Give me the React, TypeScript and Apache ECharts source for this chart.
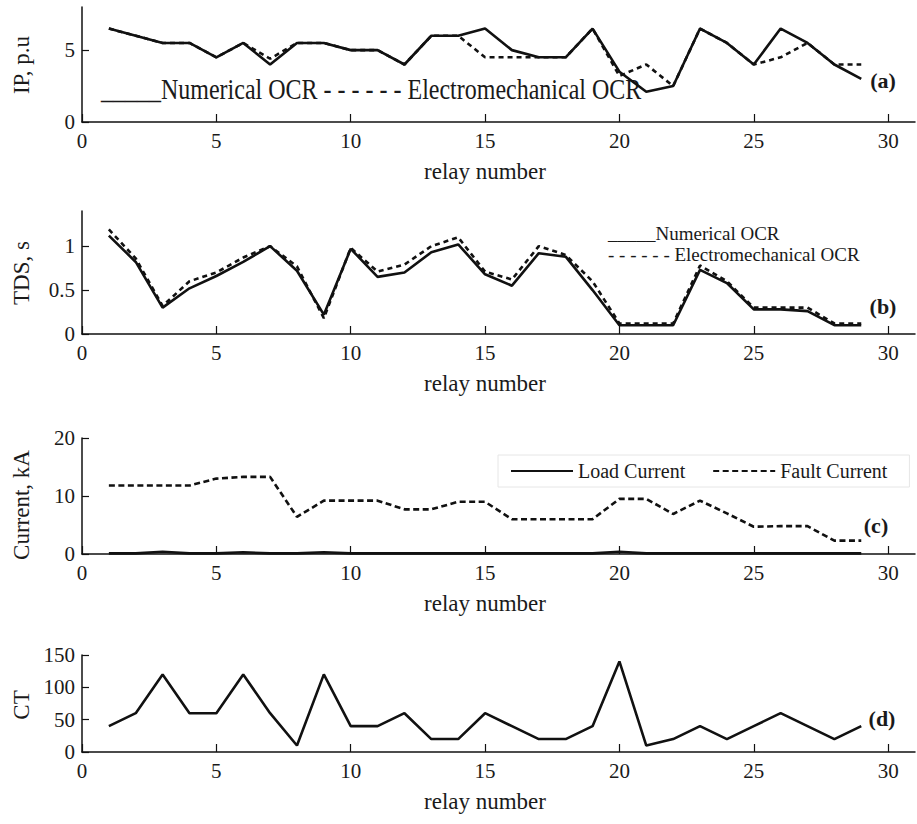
import React, { useEffect, useRef } from "react";
import * as echarts from "echarts";

const FONT = "'Liberation Serif', 'Times New Roman', serif";

const relayNumbers = [1, 2, 3, 4, 5, 6, 7, 8, 9, 10, 11, 12, 13, 14, 15, 16, 17, 18, 19, 20, 21, 22, 23, 24, 25, 26, 27, 28, 29];
const xTicks = [0, 5, 10, 15, 20, 25, 30];

// (a) pickup current, p.u
const ipNumerical = [6.5, 6, 5.5, 5.5, 4.5, 5.5, 4, 5.5, 5.5, 5, 5, 4, 6, 6, 6.5, 5, 4.5, 4.5, 6.5, 3.5, 2.1, 2.5, 6.5, 5.5, 4, 6.5, 5.5, 4, 3];
const ipElectro = [6.5, 6, 5.5, 5.5, 4.5, 5.5, 4.4, 5.5, 5.5, 5, 5, 4, 6, 6, 4.5, 4.5, 4.5, 4.5, 6.5, 3.2, 4, 2.5, 6.5, 5.5, 4, 4.5, 5.5, 4, 4];
const ipTicks = [0, 5];

// (b) time dial setting, s
const tdsNumerical = [1.12, 0.82, 0.3, 0.52, 0.66, 0.82, 1.0, 0.72, 0.22, 0.97, 0.65, 0.7, 0.93, 1.02, 0.68, 0.55, 0.92, 0.88, 0.5, 0.1, 0.1, 0.1, 0.73, 0.58, 0.28, 0.28, 0.26, 0.1, 0.1];
const tdsElectro = [1.19, 0.86, 0.32, 0.6, 0.7, 0.87, 1.0, 0.77, 0.18, 0.98, 0.71, 0.79, 1.0, 1.1, 0.71, 0.62, 1.0, 0.9, 0.6, 0.12, 0.12, 0.12, 0.78, 0.6, 0.3, 0.3, 0.3, 0.12, 0.12];
const tdsTicks = [0, 0.5, 1];

// (c) currents, kA
const loadCurrent = [0.1, 0.1, 0.4, 0.1, 0.1, 0.3, 0.1, 0.1, 0.3, 0.1, 0.1, 0.1, 0.1, 0.1, 0.1, 0.1, 0.1, 0.1, 0.1, 0.4, 0.1, 0.1, 0.1, 0.1, 0.1, 0.1, 0.1, 0.1, 0.1];
const faultCurrent = [11.8, 11.8, 11.8, 11.8, 13.0, 13.3, 13.3, 6.4, 9.2, 9.2, 9.2, 7.7, 7.7, 9.0, 9.0, 6.0, 6.0, 6.0, 6.0, 9.5, 9.5, 6.9, 9.2, 7.0, 4.7, 4.8, 4.8, 2.3, 2.3];
const currentTicks = [0, 10, 20];

// (d) CT ratio
const ctValues = [40, 60, 120, 60, 60, 120, 60, 10, 120, 40, 40, 60, 20, 20, 60, 40, 20, 20, 40, 140, 10, 20, 40, 20, 40, 60, 40, 20, 40];
const ctTicks = [0, 50, 100, 150];

const yTitles = ["IP, p.u", "TDS, s", "Current, kA", "CT"];
const xTitle = "relay number";

const pairs = (ys: number[]) => relayNumbers.map((x, i) => [x, ys[i]]);

const TEXT = "#1a1a1a";
const LINE = "#111";

function makeX(gridIndex: number) {
  return {
    type: "value",
    gridIndex,
    min: 0,
    max: 31,
    axisLine: { show: true, onZero: false, lineStyle: { color: LINE, width: 1.5 } },
    axisTick: { show: true, inside: true, length: 8, customValues: xTicks, lineStyle: { color: LINE, width: 1.2 } },
    axisLabel: { customValues: xTicks, fontFamily: FONT, fontSize: 21, color: TEXT, margin: 8 },
    splitLine: { show: false },
  };
}

function makeY(gridIndex: number, max: number, ticks: number[]) {
  return {
    type: "value",
    gridIndex,
    min: 0,
    max,
    axisLine: { show: true, lineStyle: { color: LINE, width: 1.5 } },
    axisTick: { show: true, inside: true, length: 7, customValues: ticks, lineStyle: { color: LINE, width: 1.2 } },
    axisLabel: { customValues: ticks, fontFamily: FONT, fontSize: 21, color: TEXT, margin: 7 },
    splitLine: { show: false },
  };
}

function lineSeries(name: string, idx: number, ys: number[], dash: any) {
  return {
    name,
    type: "line",
    xAxisIndex: idx,
    yAxisIndex: idx,
    data: pairs(ys),
    symbol: "none",
    lineStyle: { color: LINE, width: 2.6, type: dash },
    itemStyle: { color: LINE },
    z: 3,
  };
}

function label(text: string, x: number, y: number) {
  return {
    type: "text",
    x,
    y,
    style: { text, fontFamily: FONT, fontSize: 22, fontWeight: "bold", fill: TEXT, align: "center", verticalAlign: "middle" },
  };
}

function xName(y: number) {
  return {
    type: "text",
    x: 485,
    y,
    style: { text: xTitle, fontFamily: FONT, fontSize: 23, fill: TEXT, align: "center", verticalAlign: "middle" },
  };
}

function yName(text: string, y: number) {
  return {
    type: "text",
    x: 21,
    y,
    rotation: Math.PI / 2,
    style: { text, fontFamily: FONT, fontSize: 23, fill: TEXT, align: "center", verticalAlign: "middle" },
  };
}

export default function App() {
  const ref = useRef<HTMLDivElement>(null);

  useEffect(() => {
    document.body.style.margin = "0";
    const chart = echarts.init(ref.current!, undefined, { renderer: "svg" });
    const gridCommon = { left: 82, width: 833 };
    chart.setOption({
      animation: false,
      backgroundColor: "#fff",
      textStyle: { fontFamily: FONT },
      grid: [
        { ...gridCommon, top: 7, height: 115 },
        { ...gridCommon, top: 211, height: 123 },
        { ...gridCommon, top: 438, height: 116 },
        { ...gridCommon, top: 655, height: 97 },
      ],
      xAxis: [makeX(0), makeX(1), makeX(2), makeX(3)],
      yAxis: [
        makeY(0, 8, ipTicks),
        makeY(1, 1.4, tdsTicks),
        makeY(2, 20, currentTicks),
        makeY(3, 150, ctTicks),
      ],
      legend: {
        data: ["Load Current", "Fault Current"],
        left: 498,
        top: 455,
        orient: "horizontal",
        itemWidth: 62,
        itemHeight: 14,
        itemGap: 27,
        padding: [6, 22, 6, 12],
        borderColor: "#e6e6e6",
        borderWidth: 1,
        itemStyle: { color: "rgba(0,0,0,0)", borderWidth: 0, borderColor: "rgba(0,0,0,0)" },
        textStyle: { fontFamily: FONT, fontSize: 20, color: TEXT },
      },
      series: [
        lineSeries("IP Electromechanical", 0, ipElectro, [5, 4]),
        lineSeries("IP Numerical", 0, ipNumerical, "solid"),
        lineSeries("TDS Electromechanical", 1, tdsElectro, [5, 4]),
        lineSeries("TDS Numerical", 1, tdsNumerical, "solid"),
        lineSeries("Load Current", 2, loadCurrent, "solid"),
        lineSeries("Fault Current", 2, faultCurrent, [6, 3.5]),
        lineSeries("CT", 3, ctValues, "solid"),
      ],
      graphic: [
        {
          type: "text",
          x: 101,
          y: 89,
          scaleY: 1.25,
          style: {
            text: "_____Numerical OCR - - - - - - Electromechanical OCR",
            fontFamily: FONT,
            fontSize: 24,
            fill: TEXT,
            align: "left",
            verticalAlign: "middle",
          },
        },
        {
          type: "text",
          x: 608,
          y: 233,
          style: { text: "_____Numerical OCR", fontFamily: FONT, fontSize: 19, fill: TEXT, align: "left", verticalAlign: "middle" },
        },
        {
          type: "text",
          x: 608,
          y: 254,
          style: { text: "- - - - - - Electromechanical OCR", fontFamily: FONT, fontSize: 19, fill: TEXT, align: "left", verticalAlign: "middle" },
        },
        label("(a)", 883, 80),
        label("(b)", 883, 306),
        label("(c)", 876, 525),
        label("(d)", 882, 718),
        xName(171),
        xName(383),
        xName(603),
        xName(801),
        yName(yTitles[0], 65),
        yName(yTitles[1], 273),
        yName(yTitles[2], 505),
        yName(yTitles[3], 705),
      ],
    });
    return () => chart.dispose();
  }, []);

  return <div ref={ref} style={{ width: 917, height: 824 }} />;
}
